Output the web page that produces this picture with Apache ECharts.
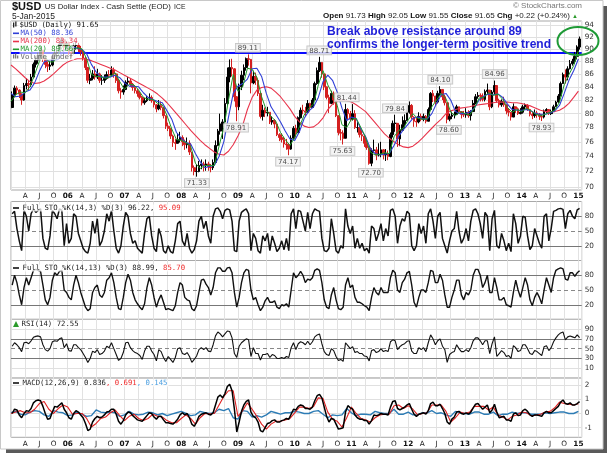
<!DOCTYPE html>
<html><head><meta charset="utf-8">
<script src="https://cdn.jsdelivr.net/npm/echarts@6.0.0/dist/echarts.min.js"></script>
<style>html,body{margin:0;padding:0;background:#fff;}#c{width:609px;height:455px;}</style>
</head><body><div id="c"></div>
<script>
// ---------- DATA (semi-monthly bars, Jan 2005 .. Jan 2015) ----------
const priceOpenFirst = 80.9;
const priceClose = [
82.8,83.8,83.5,82.9,82.0,84.2,84.5,84.3,85.5,87.5,88.2,89.0,89.8,88.4,87.5,87.2,87.4,88.8,89.3,89.5,90.8,91.5,90.3,90.9,
89.5,89.3,90.5,90.6,90.0,89.5,88.5,87.0,85.0,85.3,86.0,85.5,86.0,85.0,85.0,85.3,85.9,85.8,86.6,86.0,85.0,83.4,83.2,83.6,
84.7,84.9,84.4,83.9,83.4,83.0,82.4,81.6,81.9,82.3,82.4,81.9,81.3,80.7,81.2,80.9,79.7,78.2,77.9,76.8,75.9,75.8,76.3,76.6,
76.0,75.6,75.8,74.6,72.5,72.0,72.0,72.8,73.0,72.8,73.0,72.6,72.5,73.2,75.5,77.5,78.5,78.8,81.5,85.5,87.0,86.8,82.5,81.0,
84.0,85.8,87.0,88.4,88.3,84.6,85.6,85.0,83.0,79.6,80.5,80.1,80.2,78.8,79.0,78.5,77.0,76.6,76.3,75.7,75.6,75.0,76.5,77.9,
77.3,79.4,80.5,80.4,80.2,81.5,80.9,82.0,84.5,86.5,87.8,86.0,84.0,82.4,81.5,83.0,82.0,79.7,77.3,77.2,76.5,80.6,80.0,79.2,
80.0,78.0,78.0,77.0,76.8,75.8,75.2,73.1,74.8,74.9,74.2,74.3,74.9,74.2,74.4,74.0,77.0,78.6,78.6,76.4,77.6,78.4,79.0,80.2,
81.2,79.5,78.9,78.8,79.6,79.2,79.6,78.9,80.6,83.0,82.6,81.7,83.0,83.6,82.5,81.6,79.2,79.6,79.8,79.9,81.0,80.3,79.9,79.8,
80.2,79.7,80.3,81.5,82.5,82.7,82.6,82.1,83.3,83.5,81.0,83.2,84.2,81.9,81.3,81.8,81.3,80.4,80.2,79.5,81.0,80.7,80.0,80.2,
81.0,81.2,80.6,79.9,79.7,80.1,79.9,79.6,79.5,80.4,80.6,80.0,80.3,81.0,81.7,82.6,84.5,85.9,85.5,86.8,87.6,88.0,88.8,90.3,
91.65];
const priceHigh = [
83.3,84.2,84.1,83.6,83.0,84.6,85.3,85.0,86.0,87.8,88.8,89.4,90.3,89.8,88.6,88.0,88.0,89.2,90.0,90.2,91.2,91.8,91.3,91.3,
91.2,90.0,91.0,91.3,91.0,90.5,89.8,88.7,87.1,86.0,86.6,87.2,86.8,86.2,85.8,85.9,86.4,86.6,87.2,87.0,86.1,85.2,83.8,84.2,
85.0,85.5,85.3,84.6,84.2,83.7,83.2,82.6,82.3,82.6,83.0,82.7,82.0,81.4,82.0,81.8,81.0,79.6,78.7,77.9,77.0,76.4,77.2,77.4,
76.9,76.3,76.6,76.2,74.6,72.8,72.9,73.4,73.6,73.3,73.6,73.3,73.0,73.6,76.2,77.8,80.0,79.2,82.3,87.0,88.3,88.4,86.9,82.6,
84.5,86.5,87.5,88.6,89.11,88.0,86.5,86.2,85.3,82.8,81.3,80.9,81.0,80.2,79.6,79.2,78.5,77.2,77.2,76.7,76.4,75.8,76.9,78.2,
78.4,79.6,80.9,81.3,81.0,82.0,81.6,82.3,84.8,87.0,88.71,87.4,85.8,84.0,82.8,83.4,83.3,81.9,79.6,77.8,77.6,81.44,80.8,80.4,
81.4,80.5,78.9,78.5,77.6,76.9,76.3,75.0,75.1,76.3,75.3,75.8,76.0,75.0,75.0,74.8,77.3,79.0,79.84,78.4,78.4,79.6,79.9,80.6,
81.8,81.4,79.6,79.4,80.2,80.0,80.0,79.8,80.9,83.2,83.5,82.6,83.4,84.10,83.6,82.8,81.6,80.0,80.3,80.3,81.3,81.0,80.3,80.4,
80.8,80.5,80.5,82.0,82.9,83.2,83.0,83.0,83.6,84.5,83.3,83.5,84.96,83.5,82.2,82.1,82.5,80.9,80.7,80.1,81.5,81.0,80.9,80.8,
81.3,81.5,81.4,80.7,80.3,80.6,80.4,80.1,79.9,80.6,80.8,80.6,80.6,81.3,81.9,82.9,84.8,86.2,86.7,87.2,88.2,88.4,89.5,90.6,
92.05];
const priceLow = [
80.8,82.4,82.9,82.3,81.3,81.9,83.6,83.5,84.0,85.3,87.0,87.6,88.6,87.9,86.9,86.3,86.6,87.2,88.4,88.8,89.3,90.5,89.5,89.9,
89.0,88.6,89.1,89.9,89.5,88.9,88.1,86.6,84.6,84.4,85.0,85.1,85.2,84.6,84.3,84.6,85.1,85.3,85.7,85.4,84.6,83.0,82.2,82.8,
83.5,84.2,84.0,83.4,83.0,82.5,82.1,81.2,81.3,81.7,81.9,81.6,80.9,80.2,80.5,80.5,79.3,77.8,77.5,76.4,75.3,74.9,75.9,75.9,
75.4,74.9,75.1,74.2,72.0,71.5,71.33,71.9,72.3,72.0,72.1,72.1,71.9,72.2,73.2,75.4,77.0,76.4,78.8,81.2,84.7,85.6,81.8,78.91,
80.5,83.5,85.0,86.5,87.3,83.0,84.4,84.3,82.6,79.3,79.0,79.5,79.6,78.5,78.4,77.9,76.8,76.1,75.9,75.2,74.9,74.17,74.9,76.3,
76.6,77.2,79.3,79.9,79.6,80.1,80.3,81.0,81.9,84.3,86.3,85.4,83.5,82.1,80.1,81.8,81.3,79.5,76.9,76.2,75.63,77.8,79.1,78.9,
79.0,77.8,77.3,76.6,76.1,75.3,74.9,72.9,72.70,74.5,73.5,74.0,73.9,73.6,73.4,73.5,73.9,76.6,77.4,75.3,75.4,77.5,77.9,79.4,
80.0,79.2,78.1,78.1,78.6,78.9,78.9,78.6,78.9,80.5,81.7,81.2,81.5,82.6,82.0,81.2,78.60,78.9,79.2,79.3,79.8,80.0,79.3,79.5,
79.4,79.4,79.0,80.2,81.4,82.2,81.8,81.8,81.8,82.9,80.5,80.8,82.8,81.6,80.9,81.0,81.0,79.9,79.6,79.0,79.5,80.1,79.8,79.9,
80.0,80.5,80.4,79.6,79.2,79.4,79.4,79.1,78.93,79.3,80.1,79.8,79.8,80.3,81.0,81.6,82.7,84.6,84.5,85.0,86.7,87.3,87.6,88.3,
89.9];
// moving averages, one value per month start (Jan 2005 .. Jan 2015)
const ma50 = [
83.0,82.5,82.6,83.2,83.5,84.6,86.4,87.9,88.2,88.2,88.3,89.6,
90.3,90.3,90.1,89.9,89.2,87.5,86.3,85.5,85.5,85.5,85.8,85.4,
84.6,84.1,84.1,84.0,83.1,82.4,82.1,81.8,81.6,80.4,79.2,77.3,
76.5,75.9,75.7,74.4,73.3,72.5,72.7,72.8,74.0,76.0,79.5,83.0,
84.1,84.5,85.2,86.8,86.9,85.6,83.0,81.0,79.9,78.8,77.5,76.4,
76.2,77.4,79.3,80.4,81.0,82.4,84.8,85.8,85.0,83.2,80.8,79.0,
79.5,79.3,77.8,76.7,75.1,74.4,74.2,74.3,74.4,75.5,76.8,77.7,
78.5,79.3,79.5,79.3,79.2,80.0,81.5,82.8,83.0,82.0,80.3,80.0,
80.0,80.2,80.8,82.0,82.6,82.9,82.8,82.9,82.4,81.4,80.6,80.5,
80.5,80.6,80.4,80.0,79.9,79.9,80.1,80.4,81.2,83.0,85.0,86.5,
88.36];
const ma200 = [
87.4,86.8,86.1,85.4,84.8,84.5,84.6,84.9,85.4,86.0,86.7,87.4,
87.9,88.2,88.4,88.4,88.3,88.1,87.8,87.5,87.2,86.9,86.6,86.2,
85.8,85.4,85.0,84.6,84.2,83.8,83.4,82.9,82.3,81.6,80.8,80.0,
79.2,78.4,77.6,76.9,76.2,75.6,75.1,74.6,74.3,74.2,74.7,75.6,
76.8,78.3,80.6,82.4,83.5,83.9,84.0,83.8,83.2,82.5,81.6,80.7,
79.6,78.8,78.2,78.0,78.1,78.6,79.4,80.6,81.4,81.9,82.0,81.9,
81.7,81.3,80.8,80.3,79.5,78.7,77.9,77.1,76.5,76.0,75.6,75.3,
75.2,75.4,75.9,76.5,77.2,77.9,78.6,79.2,80.0,80.4,80.6,80.8,
80.9,81.0,81.2,81.3,81.4,81.5,81.6,81.7,81.7,81.7,81.6,81.6,
81.5,81.3,81.1,80.8,80.5,80.3,80.3,80.3,80.5,80.9,81.5,82.4,
83.34];
const ma20 = [
81.8,82.8,83.2,83.1,84.0,85.9,88.0,89.0,87.9,87.9,89.0,90.6,
90.8,89.7,90.2,90.0,88.4,85.9,85.6,85.6,85.3,85.6,86.2,84.8,
83.6,84.4,84.3,83.5,82.4,82.1,82.1,81.5,81.3,79.7,77.8,76.3,
76.2,75.9,75.4,73.1,72.4,72.8,72.8,72.8,75.4,78.0,82.0,85.9,
83.3,84.0,86.9,86.7,85.5,82.5,80.5,79.6,78.9,77.3,76.3,75.5,
76.6,78.1,79.8,80.8,81.4,84.3,86.5,84.3,82.9,81.2,78.4,78.0,
79.2,79.3,78.0,76.6,74.6,74.2,74.3,74.5,74.4,76.7,77.6,77.9,
79.1,80.0,79.3,79.2,79.2,81.0,82.0,83.0,82.2,80.2,79.7,80.3,
80.0,79.8,80.8,82.3,82.4,83.1,82.7,82.9,82.1,80.9,80.2,80.6,
80.3,80.8,80.4,79.9,79.7,79.9,80.2,80.5,81.7,84.3,85.9,87.3,
89.66];
// labelled swing highs / lows: month position, value, side
const swingMonths = [39.3, 47.6, 50.1, 58.6, 65.2, 70.1, 71.0, 76.1, 81.2, 90.8, 92.6, 102.3, 112.2];
const swingValues = [71.33, 78.91, 89.11, 74.17, 88.71, 75.63, 81.44, 72.70, 79.84, 84.10, 78.60, 84.96, 78.93];
const swingSides  = ['bottom','bottom','top','bottom','top','bottom','top','bottom','top','top','bottom','top','bottom'];
const resistanceLevel = 89.3;
// oscillators (semi-monthly)
const sto14_3 = [
85,90,55,30,10,92,80,50,85,95,88,92,95,35,15,12,40,92,85,75,95,92,20,65,
25,35,85,80,45,30,15,8,5,25,70,45,75,20,30,50,85,70,92,50,15,5,20,60,
88,80,45,25,30,15,10,5,45,75,80,40,15,8,55,40,10,5,20,8,5,30,65,70,
30,20,45,15,5,12,30,70,80,55,70,40,25,80,95,97,90,75,92,95,93,70,10,8,
70,88,92,95,85,10,45,35,10,5,40,30,45,10,40,25,8,15,30,12,35,10,85,95,
55,92,90,70,50,88,55,85,95,92,90,35,10,8,15,75,45,10,5,20,15,95,60,45,
60,15,35,15,25,10,15,5,60,55,30,45,65,30,55,40,92,95,80,25,60,75,70,90,
85,20,10,20,65,45,60,25,85,95,70,35,80,88,35,20,5,30,50,55,90,50,25,35,
55,30,70,92,95,85,65,35,88,80,10,75,92,20,15,45,30,10,25,8,85,65,25,40,
80,78,40,12,20,55,40,25,15,80,85,30,55,90,92,95,96,94,55,85,92,80,75,93,
96.22];
const sto14_13 = [
60,80,65,40,20,55,75,60,75,90,92,90,88,60,30,20,35,70,85,80,88,90,50,45,
35,30,60,80,65,45,30,15,8,12,45,55,60,40,35,45,70,75,85,65,35,12,10,35,
65,82,70,45,30,22,15,10,22,55,75,60,35,15,30,40,25,10,12,10,8,18,45,65,
60,35,30,28,12,8,18,45,70,72,62,55,40,55,85,95,95,88,88,95,96,85,45,15,
35,65,85,92,90,50,30,35,20,8,15,28,35,25,25,28,15,12,20,18,22,15,50,85,
75,80,88,80,65,72,70,75,90,93,90,65,30,15,12,40,55,30,12,10,15,60,75,55,
60,35,25,25,22,18,15,8,35,55,45,40,55,45,45,45,75,90,85,50,45,65,72,85,
88,60,25,15,35,50,50,45,65,90,88,65,65,82,70,40,15,15,35,50,70,70,40,30,
45,40,50,80,92,92,80,55,65,80,45,45,75,55,30,30,35,20,18,15,45,70,50,35,
55,75,60,30,18,35,45,35,22,50,75,60,45,75,90,93,95,93,72,70,85,85,78,85,
88.99];
const rsi14 = [
55,62,58,52,44,62,63,60,66,73,75,76,74,58,48,45,50,64,66,65,70,72,52,60,
46,45,58,58,52,48,40,32,22,30,45,42,48,38,40,45,55,52,62,50,38,26,30,42,
62,63,52,46,42,40,36,28,45,55,55,45,38,25,48,44,32,24,34,28,22,32,50,52,
40,38,42,34,22,28,35,48,52,48,52,45,44,58,76,84,80,74,80,86,85,72,40,32,
55,62,66,70,68,34,52,40,40,27,38,38,40,32,38,36,30,30,32,30,34,32,52,62,
48,60,64,62,58,65,58,64,74,78,80,60,44,38,36,50,46,34,26,28,24,62,56,50,
54,42,44,40,40,35,34,25,46,48,42,44,50,44,46,44,64,68,66,48,54,58,60,65,
66,45,40,40,52,48,52,44,62,78,70,58,66,70,55,48,22,38,42,44,58,50,44,44,
48,44,52,66,72,72,66,58,66,66,40,60,74,34,40,46,42,34,36,30,56,52,44,46,
58,58,50,40,38,46,44,40,36,54,56,46,52,64,72,78,82,84,68,74,76,74,72,78,
72.55];
const macdLine = [
0.0,0.3,0.25,-0.1,-0.3,0.0,0.2,0.15,0.35,0.75,0.9,0.95,0.9,0.5,0.0,-0.4,-0.35,0.1,0.5,0.45,0.6,0.75,0.3,0.05,
-0.3,-0.4,0.0,0.2,0.1,-0.1,-0.3,-0.7,-1.2,-1.1,-0.6,-0.35,-0.2,-0.3,-0.25,-0.1,0.1,0.15,0.3,0.3,-0.05,-0.55,-0.75,-0.5,
-0.1,0.1,0.05,-0.15,-0.3,-0.45,-0.5,-0.55,-0.35,-0.15,0.05,0.0,-0.25,-0.4,-0.2,-0.2,-0.45,-0.65,-0.65,-0.7,-0.75,-0.6,-0.4,-0.1,
0.05,-0.1,0.0,-0.3,-0.75,-0.9,-0.6,-0.2,-0.05,0.0,0.05,-0.05,-0.1,0.05,0.6,1.15,1.3,1.1,1.4,1.9,2.05,1.6,0.3,-1.3,
-0.6,0.15,0.6,0.85,0.95,0.1,-0.2,-0.3,-0.6,-1.2,-1.3,-1.0,-0.7,-0.65,-0.5,-0.45,-0.6,-0.6,-0.5,-0.45,-0.35,-0.4,-0.05,0.3,
0.25,0.5,0.6,0.55,0.35,0.35,0.3,0.45,0.9,1.25,1.35,1.1,0.45,-0.2,-0.6,-0.35,-0.4,-0.75,-1.1,-1.05,-1.0,0.1,0.55,0.4,
0.3,-0.1,-0.3,-0.4,-0.4,-0.5,-0.5,-0.75,-0.5,-0.1,-0.15,-0.1,0.0,-0.05,-0.05,-0.1,0.45,0.85,0.9,0.35,0.25,0.35,0.45,0.6,
0.7,0.3,-0.05,-0.2,-0.05,0.0,0.05,-0.05,0.2,0.7,0.8,0.55,0.55,0.65,0.35,0.0,-0.6,-0.75,-0.4,-0.25,0.1,0.15,0.0,-0.05,
0.05,-0.05,0.1,0.4,0.65,0.7,0.5,0.3,0.45,0.6,0.05,0.25,0.65,0.1,-0.3,-0.25,-0.2,-0.45,-0.45,-0.55,-0.05,0.05,-0.15,-0.1,
0.2,0.3,0.15,-0.1,-0.2,-0.1,-0.1,-0.15,-0.2,0.05,0.15,0.05,0.05,0.2,0.35,0.5,0.8,0.95,0.7,0.65,0.75,0.6,0.6,0.7,
0.836];
// signal & histogram, one per month start
const macdSignal = [
0.0,0.1,0.2,0.05,0.05,0.3,0.7,0.85,0.3,0.0,0.35,0.6,
0.45,-0.05,0.0,0.0,-0.35,-0.95,-0.7,-0.35,-0.25,0.05,0.25,-0.15,
-0.5,-0.2,-0.05,-0.35,-0.5,-0.35,-0.05,-0.2,-0.25,-0.5,-0.65,-0.65,
-0.35,-0.1,-0.35,-0.75,-0.3,0.0,-0.02,0.0,0.6,1.2,1.6,1.6,
-0.2,0.2,0.75,0.3,-0.2,-0.75,-1.1,-0.75,-0.55,-0.55,-0.45,-0.35,
0.05,0.45,0.45,0.35,0.5,1.1,1.05,0.1,-0.4,-0.55,-0.95,-0.3,
0.45,0.0,-0.35,-0.45,-0.6,-0.3,-0.1,-0.05,-0.05,0.55,0.6,0.35,
0.55,0.3,-0.1,0.0,0.05,0.6,0.6,0.6,0.15,-0.6,-0.3,0.1,
0.0,0.1,0.5,0.5,0.5,0.25,0.45,-0.1,-0.25,-0.45,-0.2,-0.1,
0.1,0.05,-0.15,-0.12,-0.05,0.1,0.15,0.4,0.8,0.7,0.65,0.6,
0.691];
const macdHist = [
0.05,0.15,-0.05,-0.1,0.1,0.2,0.15,-0.1,-0.2,0.2,0.1,0.05,
-0.15,-0.1,0.1,-0.05,-0.2,-0.15,0.25,0.1,0.05,0.1,0.05,-0.2,
-0.1,0.15,-0.05,-0.1,-0.05,0.1,0.05,-0.1,0.0,-0.15,-0.05,0.05,
0.15,0.0,-0.15,-0.1,0.15,0.05,0.0,0.05,0.3,0.2,0.35,-0.3,
-0.4,0.2,0.15,-0.25,-0.15,-0.25,-0.1,0.15,0.05,-0.05,0.05,0.05,
0.15,0.1,0.0,0.0,0.15,0.2,-0.05,-0.3,-0.1,-0.15,-0.1,0.35,
0.05,-0.15,-0.05,-0.05,-0.1,0.15,0.05,0.0,0.0,0.3,-0.05,-0.05,
0.1,-0.1,-0.1,0.05,0.05,0.2,0.0,0.05,-0.1,-0.2,0.15,0.05,
0.0,-0.05,0.1,0.1,-0.05,-0.05,0.1,-0.15,-0.05,-0.05,0.1,0.0,
0.05,0.05,-0.05,-0.05,-0.05,0.05,0.0,0.05,0.1,0.1,0.0,0.0,
0.145];
// axis tick values
const priceTicks = [70,72,74,76,78,80,82,84,86,88,90,92,94];
const stoTicks = [20,50,80];
const rsiTicks = [10,30,50,70,90];
const macdTicks = [-1,0,1,2];
const quarterLetters = {3:'A',6:'J',9:'O'};

// ---------- LAYOUT ----------
const X_MAX = 120.7;
const halfT = i => 0.25 + 0.5 * i;
const FONT = 'DejaVu Sans';
const MONO = 'DejaVu Sans Mono';
const grids = [
  {left:11, right:27.3, top:21, height:169},
  {left:11, right:27.3, top:201.5, height:59},
  {left:11, right:27.3, top:260.5, height:59},
  {left:11, right:27.3, top:319.2, height:58.9},
  {left:11, right:27.3, top:378.1, height:59.2}
].map(g => Object.assign(g, {show:true, borderColor:'#a8a8a8', borderWidth:1, backgroundColor:'#fff'}));

function xAxisCfg(gi, showLabels){
  return {type:'value', gridIndex:gi, min:0, max:X_MAX, interval:3,
    axisLine:{show:false}, axisTick:{show:false},
    splitLine:{show:true, lineStyle:{color:'#e2e2e2', width:1}},
    axisLabel:{show:showLabels, margin:3, fontSize:7.3, color:'#222', fontFamily:FONT,
      formatter: v => {
        if (Math.abs(v - Math.round(v)) > 1e-6) return '';
        const m = Math.round(v); if (m <= 0) return '';
        const mm = m % 12;
        if (mm === 0) return '{y|' + String(5 + m / 12).padStart(2,'0') + '}';
        return quarterLetters[mm] || '';
      },
      rich:{y:{fontWeight:'bold', fontSize:7.3, color:'#111', fontFamily:FONT}}
    }};
}
function yAxisCfg(gi, type, min, max){
  return {type:type, gridIndex:gi, min:min, max:max, position:'right',
    axisLine:{show:false}, axisTick:{show:false}, axisLabel:{show:false}, splitLine:{show:false}};
}
function marks(values, styleFn){
  return {silent:true, symbol:['none','none'], z:1, animation:false,
    label:{show:true, position:'end', distance:3, color:'#333', fontSize:7.3, fontFamily:FONT,
      formatter: p => String(p.value)},
    data: values.map(v => ({yAxis:v, lineStyle:styleFn(v)}))};
}
const light = () => ({color:'#e0e0e0', width:1, type:'solid'});
const oscStyle = v => v === 50 ? {color:'#888', width:1, type:[4,3]} : {color:'#777', width:1.2, type:'solid'};
const rsiStyle = v => v === 50 ? {color:'#888', width:1, type:[4,3]} : (v === 70 || v === 30 ? {color:'#777', width:1.2, type:'solid'} : light());

const candles = priceClose.map((c, i) => [halfT(i), i ? priceClose[i-1] : priceOpenFirst, c, priceLow[i], priceHigh[i]]);
const halfSeries = arr => arr.map((v, i) => [halfT(i), v]);
const monthSeries = arr => arr.map((v, m) => [m, v]);

const priceMarks = marks(priceTicks, light);
priceMarks.data.push({yAxis:resistanceLevel, lineStyle:{color:'#0a0aff', width:2, type:'solid'}, label:{show:false}});

const lineBase = (name, gi, data, color, width, z) => ({name, type:'line', xAxisIndex:gi, yAxisIndex:gi,
  data, symbol:'none', lineStyle:{color, width}, z: z || 3, animation:false, clip:true});

const series = [
  {name:'price', type:'candlestick', xAxisIndex:0, yAxisIndex:0, data:candles, barWidth:2.2,
   encode:{x:0, y:[1,2,3,4]}, z:3, animation:false,
   itemStyle:{color:'#000', color0:'#d42020', borderColor:'#000', borderColor0:'#d42020', borderWidth:1},
   markLine: priceMarks},
  lineBase('ma200', 0, monthSeries(ma200), '#e8334a', 1.1, 4),
  lineBase('ma50', 0, monthSeries(ma50), '#2f3fd6', 1.1, 4),
  lineBase('ma20', 0, monthSeries(ma20), '#1f9a2a', 1.0, 4),
  {name:'swings', type:'scatter', xAxisIndex:0, yAxisIndex:0, symbolSize:1, z:6, animation:false,
   itemStyle:{color:'rgba(0,0,0,0)'},
   data: swingMonths.map((m, i) => ({value:[m, swingValues[i]],
     label:{show:true, position:swingSides[i], distance:2, formatter: swingValues[i].toFixed(2),
       fontSize:7, fontFamily:FONT, color:'#222', backgroundColor:'#f2f2f2', borderColor:'#b5b5b5',
       borderWidth:0.8, padding:[1,2,0,2]}}))},
  Object.assign(lineBase('sto1', 1, halfSeries(sto14_3), '#111', 1.5), {markLine: marks(stoTicks, oscStyle)}),
  Object.assign(lineBase('sto2', 2, halfSeries(sto14_13), '#111', 1.4), {markLine: marks(stoTicks, oscStyle)}),
  Object.assign(lineBase('rsi', 3, halfSeries(rsi14), '#111', 1.1), {markLine: marks(rsiTicks, rsiStyle)}),
  Object.assign(lineBase('hist', 4, monthSeries(macdHist), '#2d7cb5', 1.4), {markLine: marks(macdTicks, light)}),
  lineBase('signal', 4, monthSeries(macdSignal), '#e02020', 1.1, 4),
  lineBase('macd', 4, halfSeries(macdLine), '#000', 1.5, 5)
];

// ---------- GRAPHIC TEXTS ----------
const G = [];
// frame & shadow
G.push({type:'rect', shape:{x:603, y:6, width:4, height:447}, style:{fill:'#5a5a5a'}, z:50});
G.push({type:'rect', shape:{x:6, y:449, width:601, height:4}, style:{fill:'#5a5a5a'}, z:50});
G.push({type:'rect', shape:{x:0.5, y:0.5, width:602.5, height:448.5}, style:{fill:'none', stroke:'#c8c8c8', lineWidth:1}, z:50});
// title
G.push({type:'text', left:12, top:1, z:60, style:{text:'{a|$USD} {b|US Dollar Index - Cash Settle (EOD)} {c|ICE}',
  rich:{a:{fontFamily:'Liberation Sans', fontWeight:'bold', fontSize:11, fill:'#111'},
        b:{fontFamily:'Liberation Sans', fontSize:7.8, fill:'#222'},
        c:{fontFamily:'Liberation Sans', fontSize:6.8, fill:'#222'}}}});
G.push({type:'text', left:12, top:12, z:60, style:{text:'5-Jan-2015', fontFamily:'Liberation Sans', fontSize:8.5, fill:'#222'}});
G.push({type:'text', right:27, top:2, z:60, style:{text:'© StockCharts.com', fontFamily:'Liberation Sans', fontSize:8, fill:'#777'}});
G.push({type:'text', right:31, top:12, z:60, style:{text:'{b|Open} 91.73 {b|High} 92.05 {b|Low} 91.55 {b|Close} 91.65 {b|Chg} +0.22 (+0.24%) {g|▲}',
  fontFamily:'Liberation Sans', fontSize:8, fill:'#222',
  rich:{b:{fontFamily:'Liberation Sans', fontWeight:'bold', fontSize:8, fill:'#111'}, g:{fontSize:6, fill:'#2a9a2a'}}}});
// price legend
function legendLine(y, color){ G.push({type:'line', shape:{x1:13, y1:y, x2:19, y2:y}, style:{stroke:color, lineWidth:1.6}, z:61}); }
function legendText(x, y, text, color, rich){ G.push({type:'text', x:x, y:y, z:61, style:{text, fill:color, fontFamily:MONO, fontSize:7.3,
  verticalAlign:'middle', backgroundColor:'rgba(255,255,255,0.75)', padding:[0,1], rich: rich || {}}}); }
G.push({type:'rect', shape:{x:13, y:22.5, width:1.3, height:5}, style:{fill:'#222'}, z:61});
G.push({type:'rect', shape:{x:15.2, y:21.5, width:1.3, height:5}, style:{fill:'#222'}, z:61});
legendText(18.5, 25, '$USD (Daily) 91.65', '#111');
legendLine(33.3, '#2f3fd6'); legendText(19.5, 33.3, 'MA(50) 88.36', '#2f3fd6');
legendLine(41.5, '#e8334a'); legendText(19.5, 41.5, 'MA(200) 83.34', '#e8334a');
legendLine(49.3, '#1f9a2a'); legendText(19.5, 49.3, 'MA(20) 89.66', '#1f9a2a');
G.push({type:'rect', shape:{x:13, y:54.5, width:1.3, height:4}, style:{fill:'#777'}, z:61});
G.push({type:'rect', shape:{x:15, y:53.5, width:1.3, height:5}, style:{fill:'#777'}, z:61});
G.push({type:'rect', shape:{x:17, y:55.5, width:1.3, height:3}, style:{fill:'#777'}, z:61});
legendText(19.5, 56.7, 'Volume undef', '#666');
// indicator legends
const rr = {r:{fill:'#ee2a2a', fontFamily:MONO, fontSize:7.3}, u:{fill:'#4a9ee0', fontFamily:MONO, fontSize:7.3}};
legendLine(208, '#111'); legendText(21.5, 208, 'Full STO %K(14,3) %D(3) 96.22, {r|95.09}', '#222', rr);
legendLine(268, '#111'); legendText(21.5, 268, 'Full STO %K(14,13) %D(3) 88.99, {r|85.70}', '#222', rr);
G.push({type:'polygon', shape:{points:[[13,327],[16,321],[19,327]]}, style:{fill:'#2a9a2a'}, z:61});
legendText(20.5, 324.2, 'RSI(14) 72.55', '#222');
legendLine(383, '#111'); legendText(21.5, 383, 'MACD(12,26,9) 0.836{r|, 0.691}{u|, 0.145}', '#222', rr);
// annotation
G.push({type:'text', x:327, y:31.7, z:62, style:{text:'Break above resistance around 89', fontFamily:'Liberation Sans', fontWeight:'bold', fontSize:12, fill:'#1f1fd8', verticalAlign:'middle'}});
G.push({type:'text', x:327, y:45, z:62, style:{text:'confirms the longer-term positive trend', fontFamily:'Liberation Sans', fontWeight:'bold', fontSize:12, fill:'#1f1fd8', verticalAlign:'middle'}});
G.push({type:'ellipse', shape:{cx:578, cy:41, rx:20.5, ry:14}, style:{fill:'none', stroke:'#1e9a36', lineWidth:2}, z:62});

const chart = echarts.init(document.getElementById('c'), null, {renderer:'canvas'});
chart.setOption({
  animation:false, backgroundColor:'#fff',
  grid: grids,
  xAxis: [0,1,2,3,4].map(i => xAxisCfg(i, i === 0 || i === 4)),
  yAxis: [
    Object.assign(yAxisCfg(0, 'log', 69.62, 94.69), {logBase:10}),
    yAxisCfg(1, 'value', -10, 110),
    yAxisCfg(2, 'value', -10, 110),
    yAxisCfg(3, 'value', -10, 110),
    yAxisCfg(4, 'value', -1.675, 2.49)
  ],
  series: series,
  graphic: G
});
</script></body></html>
